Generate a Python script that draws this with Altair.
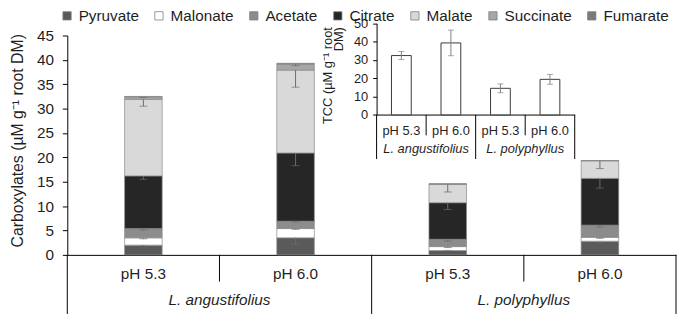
import altair as alt
import pandas as pd

# ---------------- data ----------------
acids = ["Pyruvate", "Malonate", "Acetate", "Citrate", "Malate", "Succinate", "Fumarate"]
acid_colors = ["#5a5a5a", "#ffffff", "#8c8c8c", "#262626", "#d9d9d9", "#a6a6a6", "#7a7a7a"]

conds = ["La pH 5.3", "La pH 6.0", "Lp pH 5.3", "Lp pH 6.0"]
ph_labels = ["pH 5.3", "pH 6.0", "pH 5.3", "pH 6.0"]
species = ["L. angustifolius", "L. polyphyllus"]
species_anchor = ["La pH 6.0", "Lp pH 6.0"]   # boundary where each species label is centred

pyruvate = [2.0, 3.5, 0.9, 2.8]
malonate = [1.5, 1.9, 0.8, 0.8]
acetate = [1.9, 1.5, 1.5, 2.5]
citrate = [10.8, 14.0, 7.5, 9.6]
malate = [15.7, 17.0, 3.8, 3.6]
succinate = [0.5, 1.2, 0.05, 0.05]
fumarate = [0.1, 0.2, 0.0, 0.0]

pyruvate_err = [0.2, 1.3, 0.1, 0.3]
malonate_err = [0.2, 0.15, 0.2, 0.2]
acetate_err = [0.3, 0.15, 0.35, 0.4]
citrate_err = [0.7, 2.6, 1.4, 2.0]
malate_err = [1.4, 3.5, 1.6, 1.6]
succinate_err = [0.1, 0.3, 0.0, 0.0]
fumarate_err = [0.0, 0.0, 0.0, 0.0]

tcc = [32.4, 39.3, 14.5, 19.4]
tcc_err = [2.2, 7.0, 2.4, 2.7]

values = [pyruvate, malonate, acetate, citrate, malate, succinate, fumarate]
errors = [pyruvate_err, malonate_err, acetate_err, citrate_err, malate_err, succinate_err, fumarate_err]

rows = []
for ci, c in enumerate(conds):
    cum = 0.0
    for ai, a in enumerate(acids):
        v = values[ai][ci]
        cum += v
        e = errors[ai][ci]
        rows.append({"cond": c, "acid": a, "order": ai, "value": v, "top": cum, "low": cum - e, "err": e})
df = pd.DataFrame(rows)
df_err = df[df["err"] > 0]

df_cond = pd.DataFrame({"cond": conds, "ph": ph_labels, "tcc": tcc,
                        "lo": [t - e for t, e in zip(tcc, tcc_err)],
                        "hi": [t + e for t, e in zip(tcc, tcc_err)]})
df_species = pd.DataFrame({"cond": species_anchor, "species": species})
df_ph_sep = pd.DataFrame({"cond": [conds[1], conds[3]]})
df_sp_sep_start = pd.DataFrame({"cond": [conds[0], conds[2]]})
df_sp_sep_end = pd.DataFrame({"cond": [conds[3]]})

TXT = "#1f1f1f"
FONT = "Liberation Sans"

# ---------------- main chart ----------------
main_xscale = alt.Scale(type="band", domain=conds, paddingInner=0, paddingOuter=0)
main_xaxis = alt.Axis(labels=False, ticks=False, domain=True, domainColor="black", title=None)
main_yscale = alt.Scale(domain=[0, 45], nice=False)
main_yaxis = alt.Axis(values=list(range(0, 50, 5)), tickSize=5, tickColor="black", domainColor="black",
                      labelFontSize=15.5, labelPadding=9, labelColor=TXT, grid=False,
                      title="Carboxylates (µM g⁻¹ root DM)", titleFontSize=16, titleFontWeight="normal",
                      titleColor=TXT, titleAngle=270, titleAlign="center", titleBaseline="bottom",
                      titleX=-42, titleY=106)


def mx(band=0.5):
    return alt.X("cond:N", scale=main_xscale, axis=main_xaxis, bandPosition=band)


def my(field):
    return alt.Y(field, scale=main_yscale, axis=main_yaxis)


bars = alt.Chart(df).mark_bar(size=38, stroke="#8a8a8a", strokeWidth=0.7).encode(
    x=mx(),
    y=alt.Y("value:Q", stack="zero", scale=main_yscale, axis=main_yaxis),
    color=alt.Color("acid:N", scale=alt.Scale(domain=acids, range=acid_colors),
                    legend=alt.Legend(orient="none", legendX=-8, legendY=-28, direction="horizontal",
                                      title=None, symbolType="square", symbolSize=70,
                                      symbolStrokeColor="#7f7f7f", symbolStrokeWidth=0.8,
                                      labelFontSize=15.5, labelColor=TXT, labelOffset=4,
                                      columnPadding=12, gridAlign="each", padding=0)),
    order=alt.Order("order:Q"),
)

err_rule = alt.Chart(df_err).mark_rule(color="#6b6b6b", strokeWidth=1).encode(
    x=mx(), y=my("top:Q"), y2="low:Q")
err_cap = alt.Chart(df_err).mark_tick(color="#6b6b6b", thickness=1, size=8).encode(
    x=mx(), y=my("low:Q"))

ph_text = alt.Chart(df_cond).mark_text(fontSize=15.5, color=TXT, baseline="middle").encode(
    x=mx(), y=alt.value(241), text="ph:N")
sp_text = alt.Chart(df_species).mark_text(fontSize=15.5, color=TXT, baseline="middle",
                                          fontStyle="italic").encode(
    x=mx(0), y=alt.value(268), text="species:N")
ph_sep = alt.Chart(df_ph_sep).mark_rule(color="black", strokeWidth=1).encode(
    x=mx(0), y=alt.value(222), y2=alt.value(249))
sp_sep1 = alt.Chart(df_sp_sep_start).mark_rule(color="black", strokeWidth=1).encode(
    x=mx(0), y=alt.value(222), y2=alt.value(282))
sp_sep2 = alt.Chart(df_sp_sep_end).mark_rule(color="black", strokeWidth=1).encode(
    x=mx(1), y=alt.value(222), y2=alt.value(282))

main = alt.layer(bars, err_rule, err_cap, ph_text, sp_text, ph_sep, sp_sep1, sp_sep2)

# ---------------- inset chart ----------------
in_xscale = alt.Scale(type="band", domain=conds, range=[313, 513.5], paddingInner=0, paddingOuter=0)
in_xaxis = alt.Axis(orient="bottom", offset=-142, labels=False, ticks=False, domain=True,
                    domainColor="black", title=None)
in_yscale = alt.Scale(domain=[0, 50], range=[80.3, -12.3], nice=False)
in_yaxis = alt.Axis(orient="left", offset=-313, values=list(range(0, 60, 10)), tickSize=4,
                    tickColor="black", domainColor="black", labelFontSize=13, labelPadding=5,
                    labelColor=TXT, grid=False,
                    title=["TCC (µM g⁻¹ root", "DM)\u00a0\u00a0"], titleFontSize=13,
                    titleFontWeight="normal", titleColor=TXT, titleAngle=270, titleAlign="right",
                    titleBaseline="top", titleLineHeight=12, titleX=-56, titleY=-9)


def ix(band=0.5):
    return alt.X("cond:N", scale=in_xscale, axis=in_xaxis, bandPosition=band)


def iy(field):
    return alt.Y(field, scale=in_yscale, axis=in_yaxis)


in_bars = alt.Chart(df_cond).mark_bar(size=20, fill="white", stroke="#3a3a3a", strokeWidth=1).encode(
    x=ix(), y=iy("tcc:Q"))
in_rule = alt.Chart(df_cond).mark_rule(color="#808080", strokeWidth=1).encode(
    x=ix(), y=iy("lo:Q"), y2="hi:Q")
in_cap_lo = alt.Chart(df_cond).mark_tick(color="#808080", thickness=1, size=6).encode(
    x=ix(), y=iy("lo:Q"))
in_cap_hi = alt.Chart(df_cond).mark_tick(color="#808080", thickness=1, size=6).encode(
    x=ix(), y=iy("hi:Q"))
in_ph = alt.Chart(df_cond).mark_text(fontSize=13, color=TXT, baseline="middle").encode(
    x=ix(), y=alt.value(96.7), text="ph:N")
in_sp = alt.Chart(df_species).mark_text(fontSize=13, color=TXT, baseline="middle",
                                        fontStyle="italic").encode(
    x=ix(0), y=alt.value(115), text="species:N")
in_ph_sep = alt.Chart(df_ph_sep).mark_rule(color="black", strokeWidth=1).encode(
    x=ix(0), y=alt.value(80.3), y2=alt.value(101))
in_sp_sep1 = alt.Chart(df_sp_sep_start).mark_rule(color="black", strokeWidth=1).encode(
    x=ix(0), y=alt.value(80.3), y2=alt.value(125))
in_sp_sep2 = alt.Chart(df_sp_sep_end).mark_rule(color="black", strokeWidth=1).encode(
    x=ix(1), y=alt.value(80.3), y2=alt.value(125))

inset = alt.layer(in_bars, in_rule, in_cap_lo, in_cap_hi, in_ph, in_sp, in_ph_sep, in_sp_sep1, in_sp_sep2)

chart = alt.layer(main, inset).resolve_scale(x="independent", y="independent").properties(
    width=616, height=222,
    padding={"left": 60, "top": 26, "right": 1, "bottom": 58},
    autosize=alt.AutoSizeParams(type="none"),
).configure(font=FONT).configure_view(stroke=None)

chart.save("out.html", embed_options={"renderer": "svg", "actions": False})
